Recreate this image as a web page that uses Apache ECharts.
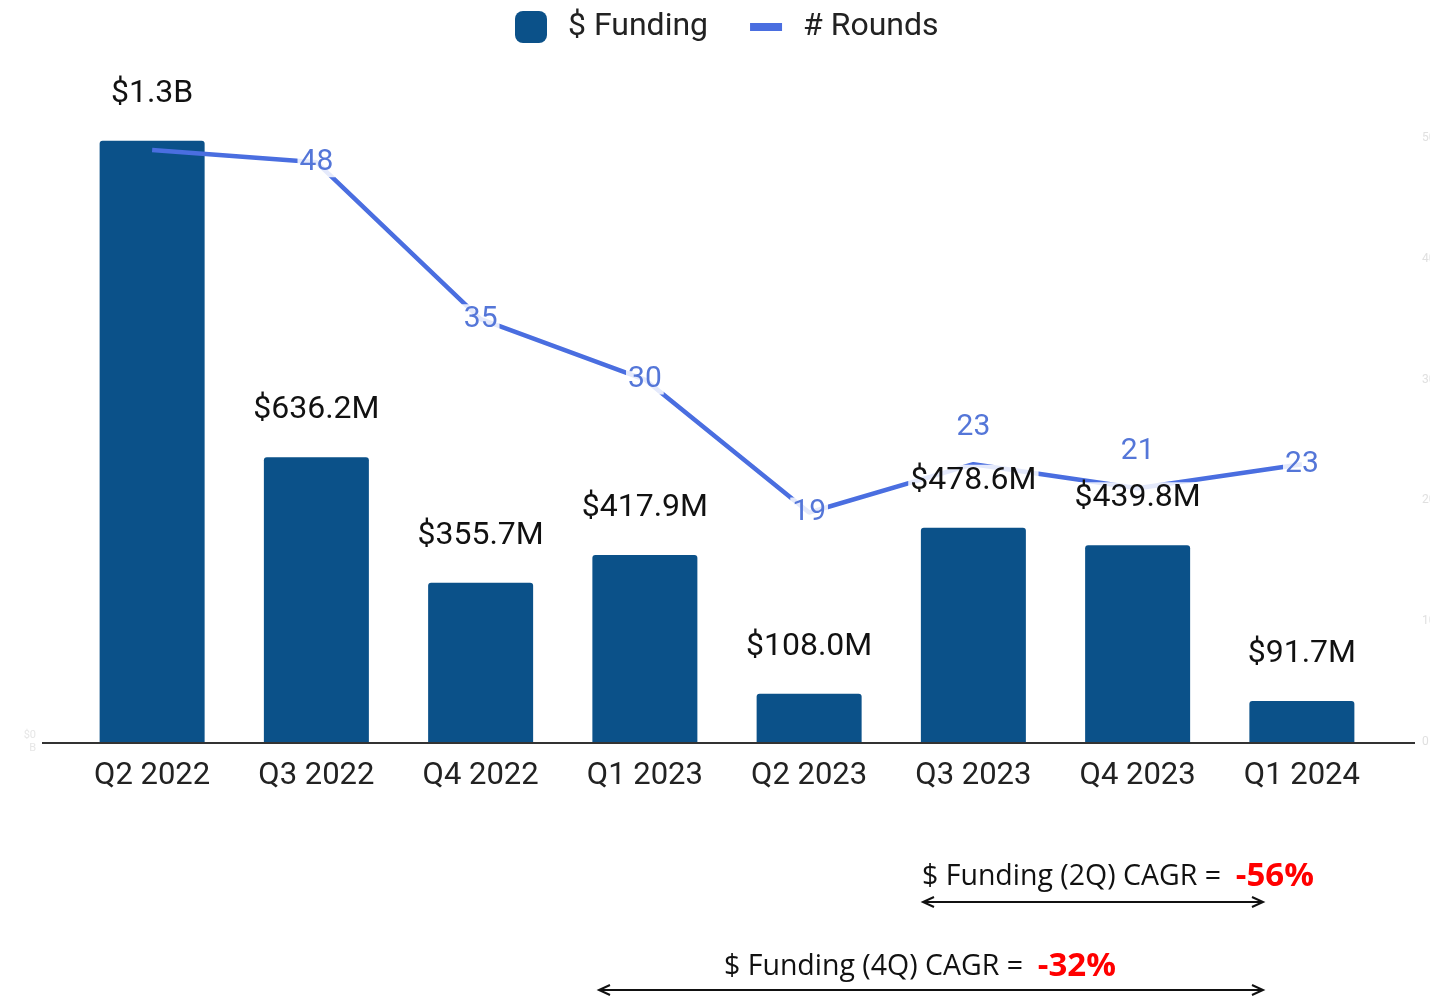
<!DOCTYPE html>
<html>
<head>
<meta charset="utf-8">
<script src="https://cdn.jsdelivr.net/npm/echarts@6/dist/echarts.min.js"></script>
<style>
  html, body { margin: 0; padding: 0; background: #fff; }
  #chart { width: 1430px; height: 998px; }
</style>
</head>
<body>
<div id="chart"></div>
<script>
// quarters
const categories = ['Q2 2022', 'Q3 2022', 'Q4 2022', 'Q1 2023', 'Q2 2023', 'Q3 2023', 'Q4 2023', 'Q1 2024'];
// $ funding, in millions
const funding = [1344, 636.2, 355.7, 417.9, 108.0, 478.6, 439.8, 91.7];
// number of rounds
const rounds = [49, 48, 35, 30, 19, 23, 21, 23];

const barColor = '#0b5189';
const lineColor = '#4a6ee0';

// $ label: millions -> "$636.2M", billions -> "$1.3B"
const fmtMoney = (v) => {
    if (v >= 1000) return '$' + (v / 1000).toFixed(1) + 'B';
    return '$' + v.toFixed(1) + 'M';
};

// rounds labels: first one hidden, two pushed above the line
const roundsData = rounds.map((v, i) => {
    const item = { value: v };
    if (i === 0) item.label = { show: false };
    if (i === 5 || i === 6) item.label = { position: 'top', distance: 22 };
    return item;
});

const chart = echarts.init(document.getElementById('chart'));

chart.setOption({
    animation: false,
    textStyle: { fontFamily: 'Roboto' },
    legend: {
        top: 6,
        left: 510,
        itemWidth: 32,
        itemHeight: 32,
        itemGap: 42,
        textStyle: { fontSize: 32, color: '#222', padding: [0, 0, 0, 16] },
        data: [
            { name: '$ Funding', icon: 'roundRect' },
            { name: '# Rounds', icon: 'path://M0,0h32v8h-32z' }
        ]
    },
    grid: { left: 70, right: 46, top: 138, bottom: 256, outerBoundsMode: 'none' },
    xAxis: {
        type: 'category',
        data: categories,
        axisLine: { show: false },
        axisTick: { show: false },
        axisLabel: { fontSize: 31, color: '#222', margin: 19 }
    },
    yAxis: [
        {
            type: 'value',
            min: 0,
            max: 1350,
            interval: 450,
            splitLine: { show: false },
            axisLabel: {
                color: '#e6e6e6',
                fontSize: 11,
                lineHeight: 13,
                margin: 34,
                formatter: (v) => (v === 0 ? '$0\nB' : '')
            }
        },
        {
            type: 'value',
            min: 0,
            max: 50,
            interval: 10,
            splitLine: { show: false },
            axisLabel: { color: '#e0e0e0', fontSize: 12, margin: 38, align: 'left' }
        }
    ],
    series: [
        {
            name: '$ Funding',
            type: 'bar',
            data: funding,
            barWidth: 105,
            z: 2,
            itemStyle: { color: barColor, borderRadius: [3, 3, 0, 0] }
        },
        {
            name: '# Rounds',
            type: 'line',
            yAxisIndex: 1,
            data: roundsData,
            z: 3,
            symbol: 'circle',
            symbolSize: 0,
            showSymbol: true,
            lineStyle: { color: lineColor, width: 4.5 },
            itemStyle: { color: lineColor },
            label: {
                show: true,
                position: 'inside',
                fontSize: 30,
                color: '#5476d8',
                backgroundColor: 'rgba(255,255,255,0.85)',
                padding: [0, 2]
            }
        },
        {
            // same bars again, transparent, only to put $ labels above the line
            name: 'labels',
            type: 'bar',
            data: funding,
            barWidth: 105,
            barGap: '-100%',
            z: 4,
            silent: true,
            itemStyle: { color: 'transparent' },
            label: {
                show: true,
                position: 'top',
                distance: 31,
                fontSize: 32,
                color: '#111',
                backgroundColor: 'rgba(255,255,255,0.85)',
                padding: [0, 2],
                formatter: (p) => fmtMoney(p.value)
            }
        }
    ],
    graphic: [
        // long x axis line
        { type: 'line', z: 10, shape: { x1: 42, y1: 743, x2: 1415, y2: 743 }, style: { stroke: '#333', lineWidth: 2 } },

        // 2Q CAGR note
        {
            type: 'text', left: 922, top: 860,
            style: {
                text: '{a|$ Funding (2Q) CAGR =  }{b|-56%}',
                rich: {
                    a: { fontFamily: 'Open Sans', fontSize: 28.5, fill: '#111' },
                    b: { fontFamily: 'Open Sans', fontSize: 33, fontWeight: 'bold', fill: '#ff0000' }
                }
            }
        },
        { type: 'line', shape: { x1: 924, y1: 902, x2: 1262, y2: 902 }, style: { stroke: '#111', lineWidth: 2 } },
        { type: 'polyline', shape: { points: [[934, 897], [923, 902], [934, 907]] }, style: { stroke: '#111', lineWidth: 2, fill: null } },
        { type: 'polyline', shape: { points: [[1252, 897], [1263, 902], [1252, 907]] }, style: { stroke: '#111', lineWidth: 2, fill: null } },

        // 4Q CAGR note
        {
            type: 'text', left: 724, top: 950,
            style: {
                text: '{a|$ Funding (4Q) CAGR =  }{b|-32%}',
                rich: {
                    a: { fontFamily: 'Open Sans', fontSize: 28.5, fill: '#111' },
                    b: { fontFamily: 'Open Sans', fontSize: 33, fontWeight: 'bold', fill: '#ff0000' }
                }
            }
        },
        { type: 'line', shape: { x1: 600, y1: 990, x2: 1262, y2: 990 }, style: { stroke: '#111', lineWidth: 2 } },
        { type: 'polyline', shape: { points: [[610, 985], [599, 990], [610, 995]] }, style: { stroke: '#111', lineWidth: 2, fill: null } },
        { type: 'polyline', shape: { points: [[1252, 985], [1263, 990], [1252, 995]] }, style: { stroke: '#111', lineWidth: 2, fill: null } }
    ]
});
</script>
</body>
</html>
